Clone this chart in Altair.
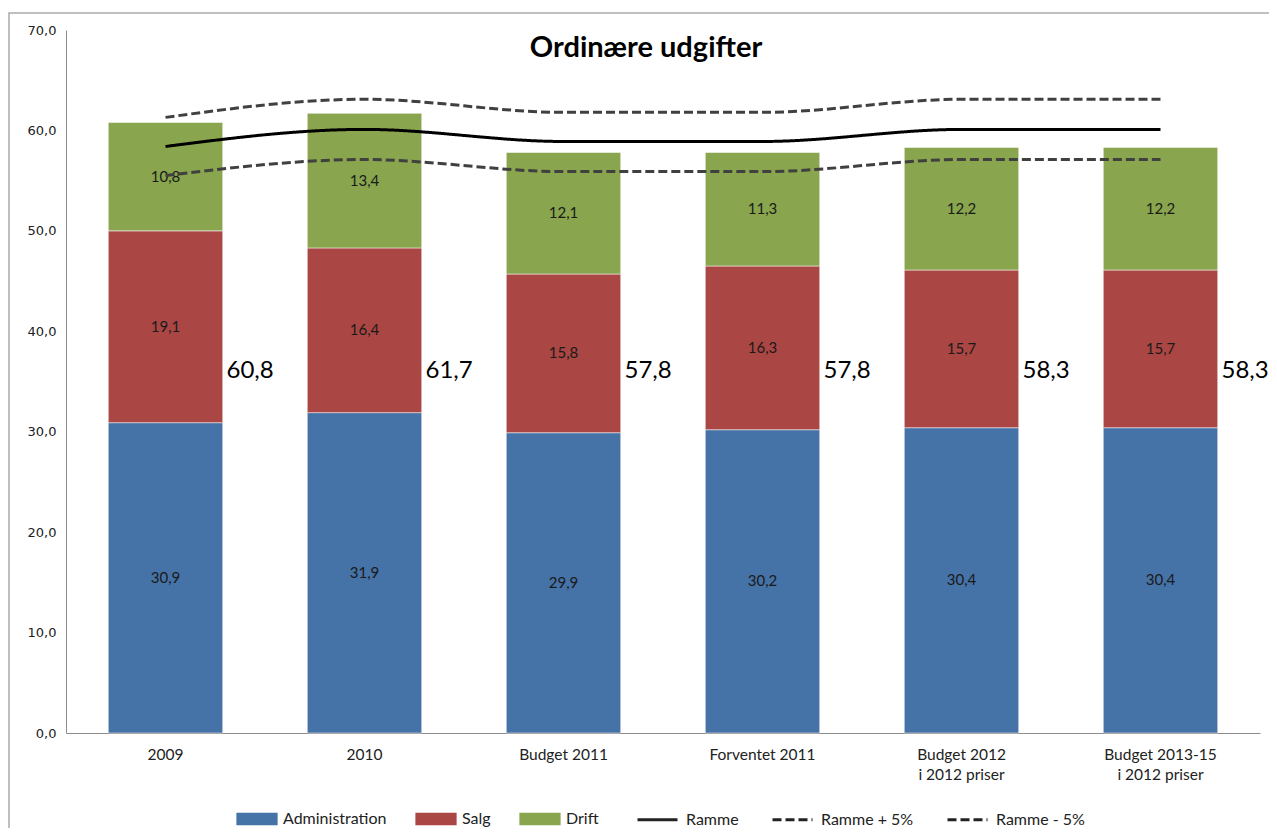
import altair as alt
import pandas as pd

categories = ["2009", "2010", "Budget 2011", "Forventet 2011",
              "Budget 2012|i 2012 priser", "Budget 2013-15|i 2012 priser"]
series = ["Administration", "Salg", "Drift"]
administration = [30.9, 31.9, 29.9, 30.2, 30.4, 30.4]
salg = [19.1, 16.4, 15.8, 16.3, 15.7, 15.7]
drift = [10.8, 13.4, 12.1, 11.3, 12.2, 12.2]
line_names = ["Ramme", "Ramme + 5%", "Ramme - 5%"]
ramme = [58.4, 60.1, 58.9, 58.9, 60.1, 60.1]
ramme_plus = [61.3, 63.1, 61.8, 61.8, 63.1, 63.1]
ramme_minus = [55.5, 57.1, 55.9, 55.9, 57.1, 57.1]
y_ticks = [0, 10, 20, 30, 40, 50, 60, 70]

bar_rows = []
for s_i, (name, vals) in enumerate(zip(series, [administration, salg, drift])):
    for c, v in zip(categories, vals):
        bar_rows.append({"kategori": c, "serie": name, "idx": s_i, "value": v})
bars_df = pd.DataFrame(bar_rows)

line_rows = []
for name, vals in zip(line_names, [ramme, ramme_plus, ramme_minus]):
    for c, v in zip(categories, vals):
        line_rows.append({"kategori": c, "linje": name, "value": v})
lines_df = pd.DataFrame(line_rows)

FONT = "Lato"
x_enc = alt.X("kategori:N", sort=categories,
              scale=alt.Scale(paddingInner=0.425, paddingOuter=0.2125),
              axis=alt.Axis(title=None, labelExpr="split(datum.label, '|')",
                            labelAngle=0, labelFont=FONT, labelFontSize=15.5,
                            labelColor="#222222", labelPadding=14,
                            labelLineHeight=20, ticks=False,
                            domainColor="#8c8c8c", labelBaseline="top"))
y_scale = alt.Scale(domain=[0, 70], nice=False)

base_bars = alt.Chart(bars_df).transform_stack(
    stack="value", groupby=["kategori"], sort=[alt.SortField("idx", order="ascending")],
    as_=["y0", "y1"]
).transform_calculate(
    mid="(datum.y0 + datum.y1) / 2",
    lbl="replace(format(datum.value, '.1f'), '.', ',')"
)

bars = base_bars.mark_bar(stroke="white", strokeWidth=0.5).encode(
    x=x_enc,
    y=alt.Y("y1:Q", scale=y_scale,
            axis=alt.Axis(title=None, values=y_ticks, grid=False, ticks=False,
                          labelExpr="replace(format(datum.value, '.1f'), '.', ',')",
                          labelFont="DejaVu Sans", labelFontSize=13,
                          labelColor="#222222", labelPadding=10,
                          domainColor="#8c8c8c")),
    y2="y0:Q",
    color=alt.Color("serie:N", sort=series,
                    scale=alt.Scale(domain=series, range=["#4572A7", "#AA4643", "#89A54E"]),
                    legend=alt.Legend(title=None, orient="none", legendX=170, legendY=768,
                                      direction="horizontal", symbolType="M-1,-0.3H1V0.3H-1Z",
                                      symbolSize=1700, symbolStrokeWidth=0,
                                      labelFont=FONT, labelFontSize=16, labelColor="#222222",
                                      labelOffset=5, columnPadding=28)),
)

seg_labels = base_bars.mark_text(font=FONT, fontSize=15, color="#1a1a1a").encode(
    x=alt.X("kategori:N", sort=categories),
    y=alt.Y("mid:Q", scale=y_scale),
    text="lbl:N",
)

totals = alt.Chart(bars_df).transform_aggregate(
    total="sum(value)", groupby=["kategori"]
).transform_calculate(
    lbl="replace(format(datum.total, '.1f'), '.', ',')"
).mark_text(font=FONT, fontSize=24, color="black", align="left", dx=61).encode(
    x=alt.X("kategori:N", sort=categories),
    y=alt.datum(36),
    text="lbl:N",
)

lines = alt.Chart(lines_df).mark_line(interpolate="monotone", strokeWidth=3).encode(
    x=alt.X("kategori:N", sort=categories),
    y=alt.Y("value:Q", scale=y_scale),
    color=alt.Color("linje:N", sort=line_names,
                    scale=alt.Scale(domain=line_names, range=["#000000", "#404040", "#404040"]),
                    legend=None),
    strokeDash=alt.StrokeDash("linje:N", sort=line_names,
                              scale=alt.Scale(domain=line_names, range=[[1, 0], [9, 4], [9, 4]]),
                              legend=alt.Legend(title=None, orient="none", legendX=570, legendY=768,
                                                direction="horizontal", symbolType="stroke",
                                                symbolSize=1600, symbolStrokeWidth=3,
                                                symbolStrokeColor="#222222",
                                                labelFont=FONT, labelFontSize=16, labelColor="#222222",
                                                labelOffset=7, columnPadding=27)),
)

frame = alt.Chart(pd.DataFrame({"a": [0]})).mark_rect(
    fill=None, stroke="#aaaaaa", strokeWidth=1.5
).encode(x=alt.value(-57), x2=alt.value(1205), y=alt.value(-17), y2=alt.value(800))

chart = alt.layer(frame, bars, seg_labels, totals, lines).resolve_scale(
    color="independent"
).properties(
    width=1194, height=703,
    padding={"left": 58, "top": 22, "right": 9, "bottom": 95},
    autosize=alt.AutoSizeParams(type="none"),
    title=alt.TitleParams("Ordinære udgifter", font=FONT, fontSize=29, fontWeight="bold",
                          color="black", anchor="middle", dx=-17, dy=55),
).configure_view(stroke=None).configure_legend(padding=0, rowPadding=0)

chart.save("out.html", embed_options={"renderer": "svg", "actions": False})
